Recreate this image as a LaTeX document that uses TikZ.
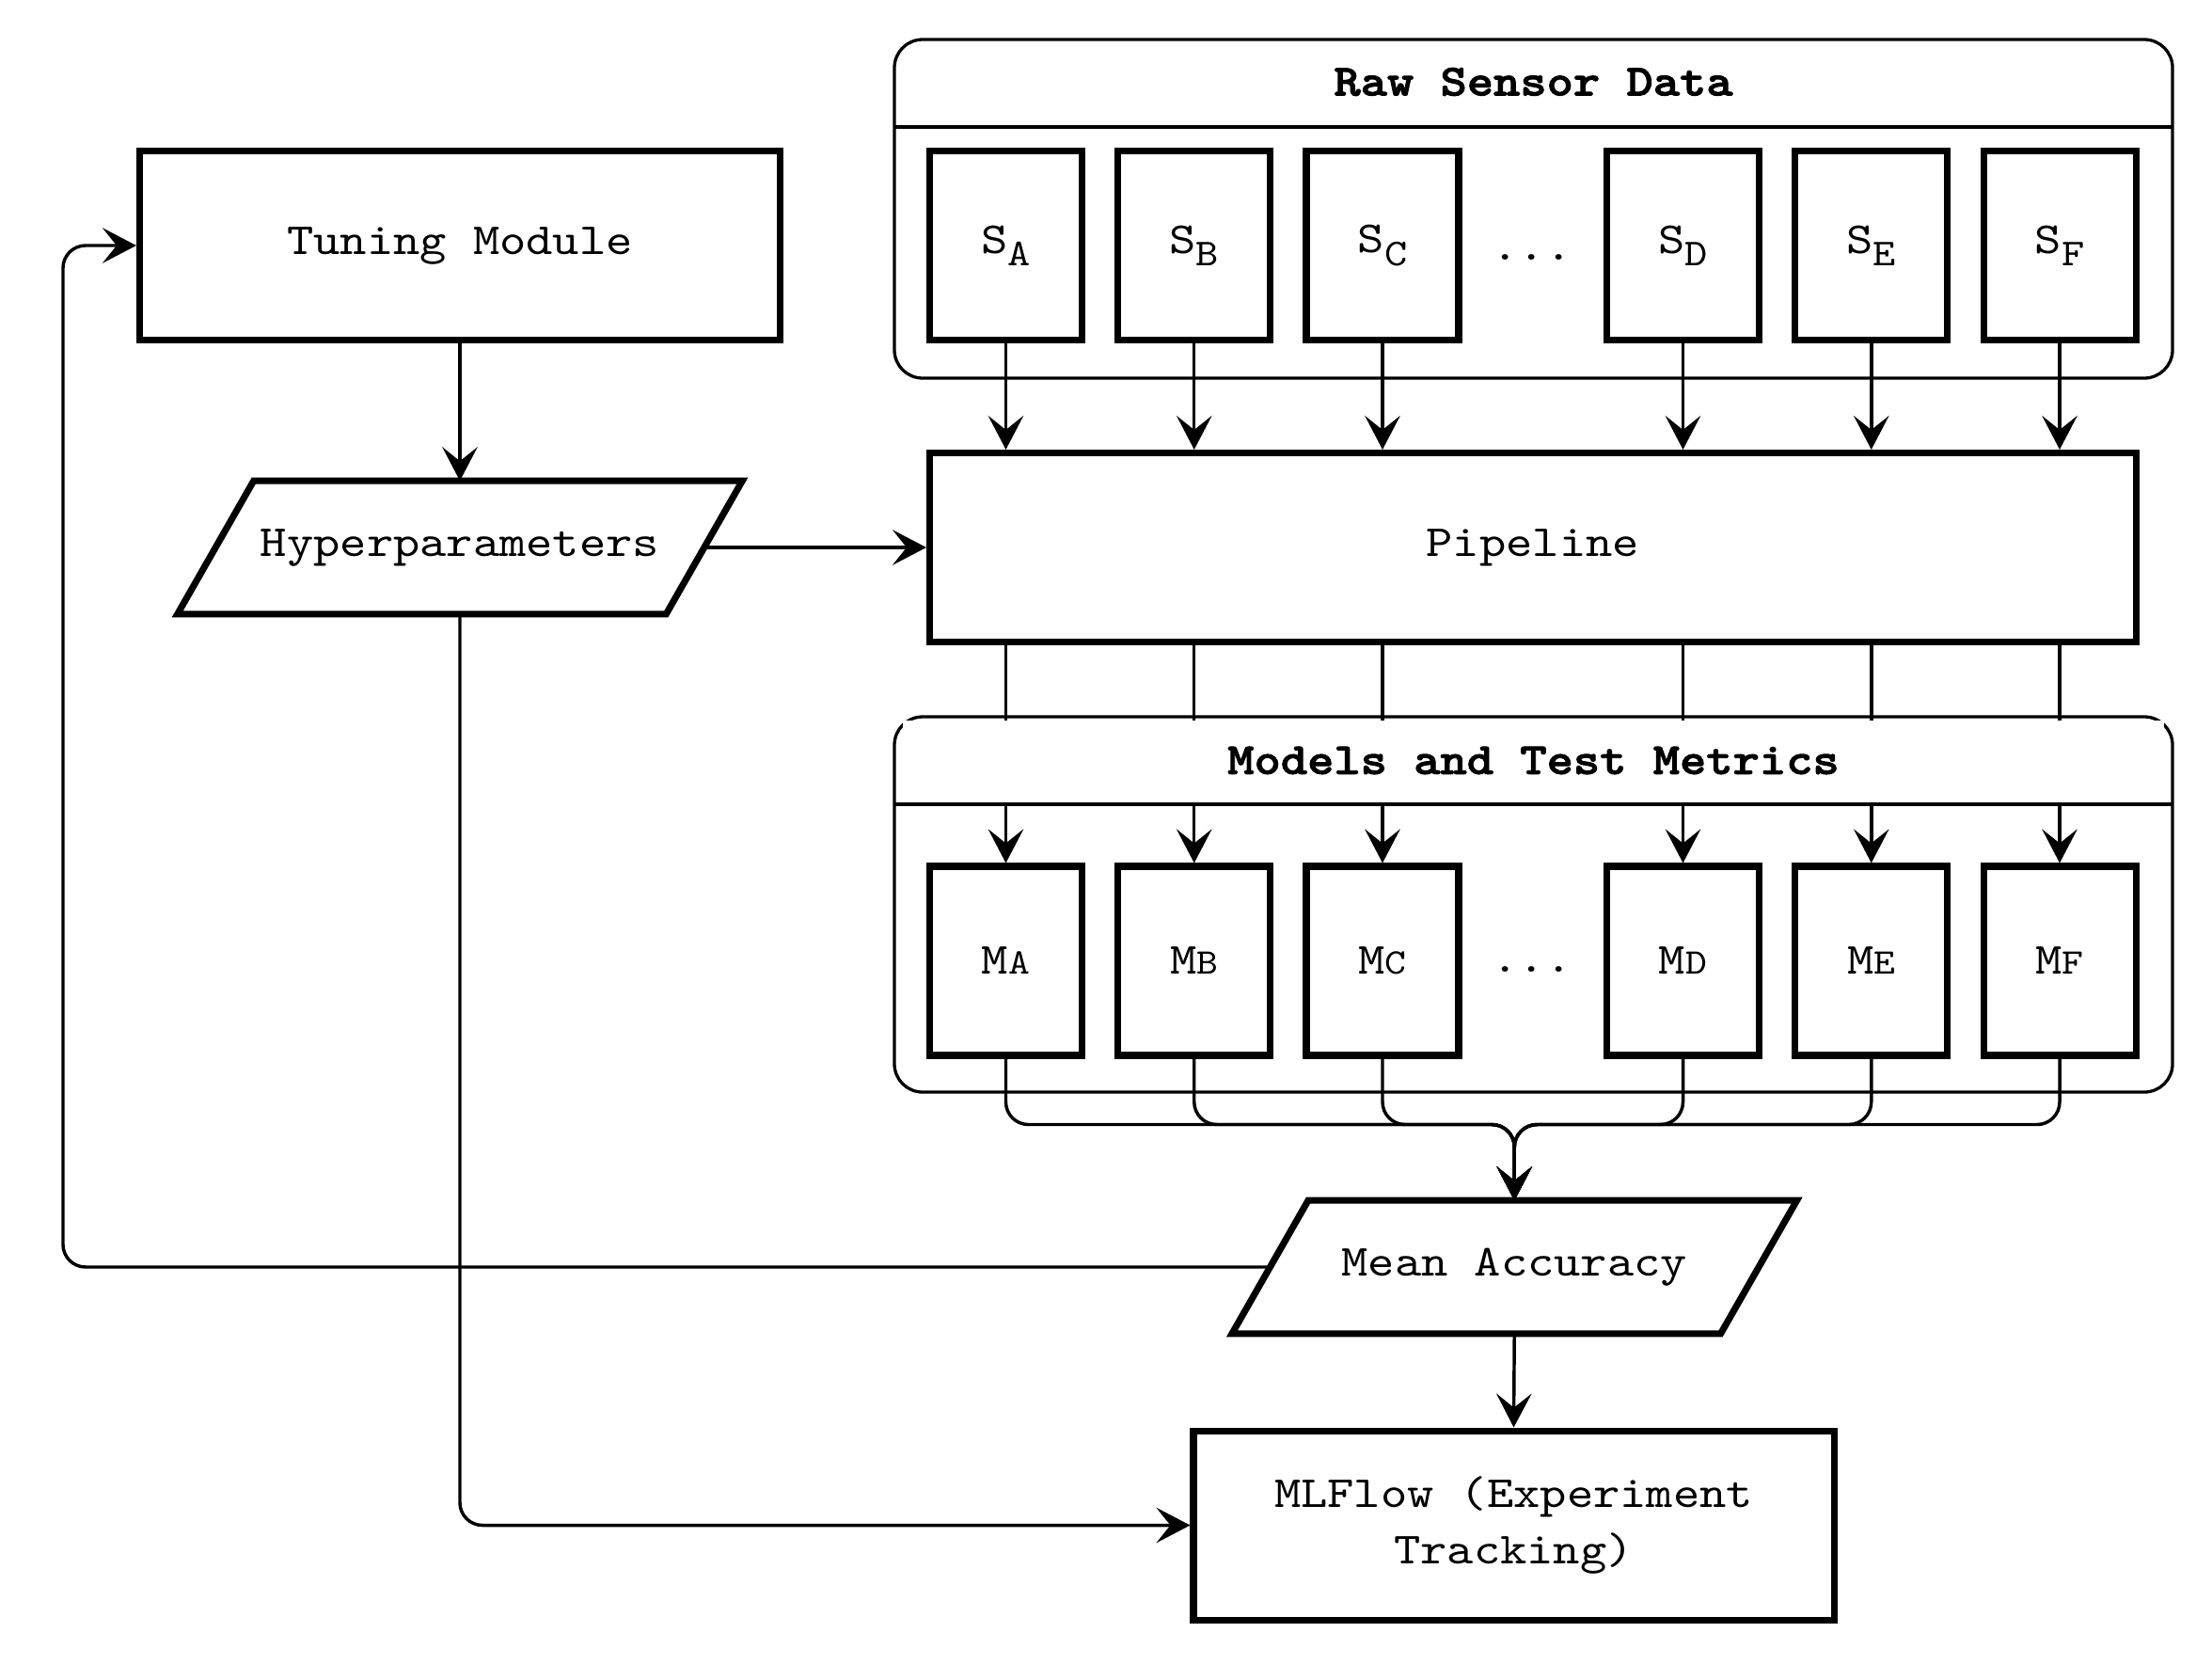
\documentclass[tikz,border=0pt]{standalone}
\usepackage{fontspec}
\setmainfont{lmmono10-regular.otf}[FakeStretch=1.14, BoldFont=lmmonolt10-bold.otf, BoldFeatures={FakeBold=2}]
\usetikzlibrary{arrows.meta}
\newcommand\ssub[1]{\raisebox{-8.7pt}{\fontsize{27}{27}\selectfont #1}}
\newcommand\msm[1]{{\fontsize{25.5}{25.5}\selectfont #1}}
\begin{document}
\begin{tikzpicture}[x=1pt,y=-1pt,
  bx/.style={draw, line width=4.7pt, fill=white, inner sep=0pt, font=\fontsize{31.5}{40}\selectfont},
  sbox/.style={bx, minimum width=108pt, minimum height=134pt},
  wbox/.style={bx, minimum width=454pt, minimum height=134pt},
  contain/.style={draw, line width=2.2pt, rounded corners=20pt, minimum width=906pt, inner sep=0pt},
  ttl/.style={font=\fontsize{31.5}{40}\selectfont\bfseries, inner sep=0pt},
  lbl/.style={font=\fontsize{31.5}{40}\selectfont, inner sep=0pt},
  arr/.style={line width=2.3pt, -{Stealth[length=24pt,width=25pt,inset=10pt]}},
  ln/.style={line width=2.2pt},
  paraframe/.style={line width=4.7pt, line join=miter},
]
\fill[white] (0,0) rectangle (1568,1178.67);
\useasboundingbox (0,0) rectangle (1568,1178.67);

% containers
\node[contain, minimum height=240pt] (raw) at (1087,148) {};
\node[contain, minimum height=266pt] (models) at (1087,641) {};
\draw[ln] (634,90) -- (1540,90);

% sensor boxes
\node[sbox] (sA) at (713,174) {S\ssub{A}};
\node[sbox] (sB) at (846.5,174) {S\ssub{B}};
\node[sbox] (sC) at (980,174) {S\ssub{C}};
\node[sbox] (sD) at (1193,174) {S\ssub{D}};
\node[sbox] (sE) at (1326.5,174) {S\ssub{E}};
\node[sbox] (sF) at (1460,174) {S\ssub{F}};
\node[lbl, anchor=base] (dots1) at (1086,184) {...};

% pipeline
\node[bx, minimum width=855pt, minimum height=134pt] (pipe) at (1086.5,388) {Pipeline};

% model boxes
\node[sbox] (mA) at (713,681) {M\msm{A}};
\node[sbox] (mB) at (846.5,681) {M\msm{B}};
\node[sbox] (mC) at (980,681) {M\msm{C}};
\node[sbox] (mD) at (1193,681) {M\msm{D}};
\node[sbox] (mE) at (1326.5,681) {M\msm{E}};
\node[sbox] (mF) at (1460,681) {M\msm{F}};
\node[lbl, anchor=base] (dots2) at (1086,689) {...};

% left column
\node[wbox] (tuning) at (326,174) {Tuning Module};
\node[lbl, minimum width=346pt, minimum height=94pt] (hyp) at (326,388) {Hyperparameters};
\draw[paraframe] ([xshift=27pt]hyp.north west) -- ([xshift=27pt]hyp.north east) -- ([xshift=-27pt]hyp.south east) -- ([xshift=-27pt]hyp.south west) -- cycle;

\node[lbl, minimum width=346pt, minimum height=94pt] (mean) at (1073.5,898) {Mean Accuracy};
\draw[paraframe] ([xshift=27pt]mean.north west) -- ([xshift=27pt]mean.north east) -- ([xshift=-27pt]mean.south east) -- ([xshift=-27pt]mean.south west) -- cycle;

\node[wbox, align=center] (mlflow) at (1073,1081) {MLFlow (Experiment\\Tracking)};

% sensor -> pipeline
\foreach \s in {sA,sB,sC,sD,sE,sF}
  \draw[arr] (\s.south) -- (pipe.north -| \s.south);
% pipeline -> models
\foreach \m in {mA,mB,mC,mD,mE,mF}
  \draw[arr] (pipe.south -| \m.north) -- (\m.north);

% header of models container covers lines
\fill[white] (640,510.5) rectangle (1534,568.9);
\draw[ln] (634,570) -- (1540,570);
\node[ttl] (rawt) at (1087,58) {Raw Sensor Data};
\node[ttl] (modt) at (1087,539) {Models and Test Metrics};

% merge to mean accuracy
\coordinate (merge) at (1073.5,797);
\foreach \m in {mA,mB,mC,mD,mE,mF}
  \draw[arr, rounded corners=16pt] (\m.south) |- (merge) -- (mean.north);

% other connectors
\draw[arr] (tuning.south) -- (hyp.north);
\draw[arr] (hyp.east) -- (pipe.west |- hyp.east);
\draw[arr, rounded corners=16pt] (hyp.south) |- (mlflow.west);
\draw[arr] (mean.south) -- (mlflow.north);
\draw[arr, rounded corners=16pt] (mean.west) -| ([xshift=-52pt]tuning.west) -- (tuning.west);
\end{tikzpicture}
\end{document}
